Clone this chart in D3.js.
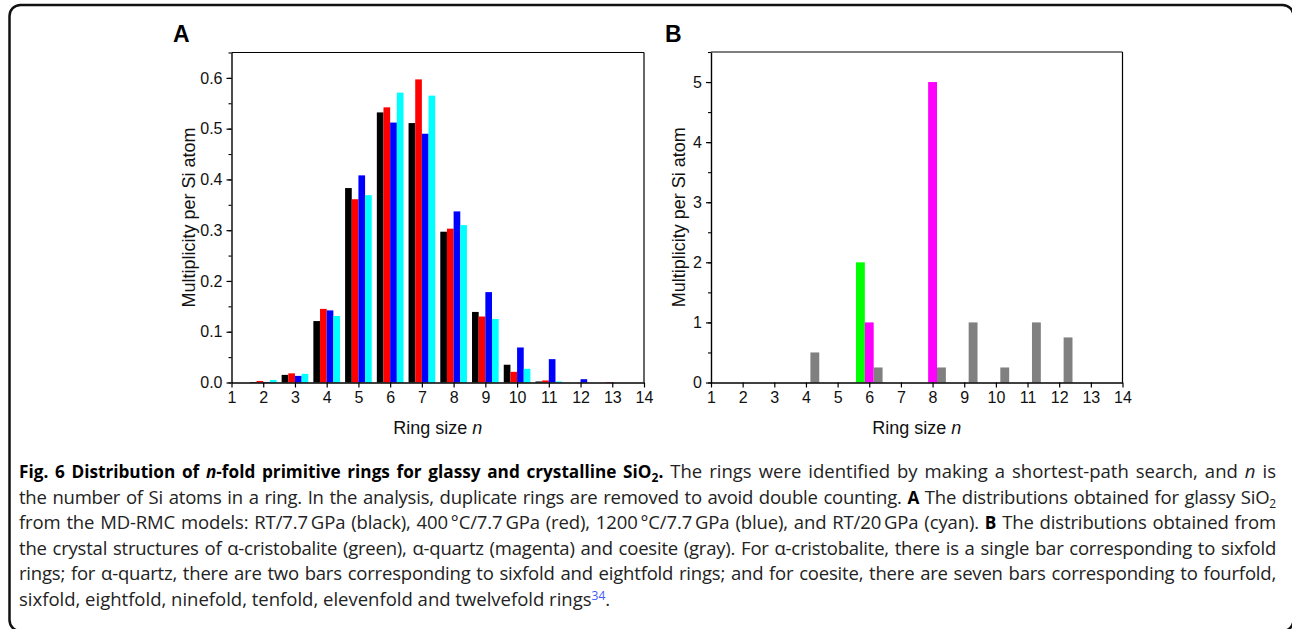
<!DOCTYPE html>
<html>
<head>
<meta charset="utf-8">
<script src="https://cdn.jsdelivr.net/npm/d3@7"></script>
<style>
  html, body { margin: 0; padding: 0; background: #fff; }
  svg { display: block; }
</style>
</head>
<body>
<svg id="chart" width="1292" height="629"></svg>
<script>
// ---------------- DATA ----------------
const ringSizes = [2, 3, 4, 5, 6, 7, 8, 9, 10, 11, 12, 13];
const rt77 = [0.001, 0.015, 0.121, 0.383, 0.532, 0.511, 0.297, 0.139, 0.035, 0.002, 0, 0];       // black
const c400 = [0.003, 0.018, 0.145, 0.361, 0.542, 0.597, 0.303, 0.130, 0.021, 0.004, 0, 0.001];   // red
const c1200 = [0.001, 0.013, 0.142, 0.408, 0.512, 0.490, 0.337, 0.178, 0.069, 0.046, 0.0065, 0]; // blue
const rt20 = [0.005, 0.017, 0.131, 0.369, 0.571, 0.565, 0.310, 0.125, 0.027, 0.002, 0, 0];       // cyan

const cristobaliteN = [6];
const cristobaliteVals = [2];
const quartzN = [6, 8];
const quartzVals = [1, 5];
const coesiteN = [4, 6, 8, 9, 10, 11, 12];
const coesiteVals = [0.5, 0.25, 0.25, 1, 0.25, 1, 0.75];

const xTickValues = [1, 2, 3, 4, 5, 6, 7, 8, 9, 10, 11, 12, 13, 14];
const yTicksA = [0, 0.1, 0.2, 0.3, 0.4, 0.5, 0.6];
const yTicksB = [0, 1, 2, 3, 4, 5];

const xLabel = "Ring size ";
const yLabel = "Multiplicity per Si atom";

// caption lines: segments
const captionLines = [
  [{t:"Fig. 6 Distribution of ", b:1}, {t:"n", b:1, i:1}, {t:"-fold primitive rings for glassy and crystalline SiO", b:1}, {t:"2", b:1, sub:1}, {t:".", b:1},
   {t:" The rings were identified by making a shortest-path search, and "}, {t:"n", i:1}, {t:" is"}],
  [{t:"the number of Si atoms in a ring. In the analysis, duplicate rings are removed to avoid double counting. "}, {t:"A", b:1}, {t:" The distributions obtained for glassy SiO"}, {t:"2", sub:1}],
  [{t:"from the MD-RMC models: RT/7.7\u2009GPa (black), 400\u2009°C/7.7\u2009GPa (red), 1200\u2009°C/7.7\u2009GPa (blue), and RT/20\u2009GPa (cyan). "}, {t:"B", b:1}, {t:" The distributions obtained from"}],
  [{t:"the crystal structures of α-cristobalite (green), α-quartz (magenta) and coesite (gray). For α-cristobalite, there is a single bar corresponding to sixfold"}],
  [{t:"rings; for α-quartz, there are two bars corresponding to sixfold and eightfold rings; and for coesite, there are seven bars corresponding to fourfold,"}],
  [{t:"sixfold, eightfold, ninefold, tenfold, elevenfold and twelvefold rings"}, {t:"34", sup:1, c:"#3d5afe"}, {t:"."}]
];

// ---------------- DRAW ----------------
const svg = d3.select("#chart");
const axisFont = "'Liberation Sans', Arial, sans-serif";

svg.append("rect")
  .attr("x", 9.5).attr("y", 5).attr("width", 1284).attr("height", 626)
  .attr("rx", 11).attr("ry", 11)
  .attr("fill", "none").attr("stroke", "#111").attr("stroke-width", 2.5);

function panel(opts) {
  const { left, right, top, bottom, yMax, yTicks, minorStep, fmt, letter, letterX } = opts;
  const g = svg.append("g");
  const x = d3.scaleLinear().domain([1, 14]).range([left, right]);
  const y = d3.scaleLinear().domain([0, yMax]).range([bottom, top]);

  opts.drawBars(g, x, y);

  g.append("line").attr("x1", left).attr("x2", right).attr("y1", top).attr("y2", top)
    .attr("stroke", "#000").attr("stroke-width", 1.2);
  g.append("line").attr("x1", right).attr("x2", right).attr("y1", top).attr("y2", bottom)
    .attr("stroke", "#000").attr("stroke-width", 1.2);

  const xAxis = d3.axisBottom(x).tickValues(xTickValues).tickFormat(d3.format("d"))
    .tickSizeInner(5).tickSizeOuter(0).tickPadding(4);
  const gx = g.append("g").attr("transform", `translate(0,${bottom})`).call(xAxis);
  gx.select(".domain").attr("stroke-width", 1.4);
  gx.selectAll(".tick line").attr("stroke-width", 1.2);
  gx.selectAll("text").attr("font-family", axisFont).attr("font-size", 16).attr("fill", "#111");

  const minor = d3.range(0, yMax + 1e-9, minorStep);
  const yMinor = d3.axisLeft(y).tickValues(minor).tickSize(3).tickFormat("");
  const gym = g.append("g").attr("transform", `translate(${left},0)`).call(yMinor);
  gym.select(".domain").remove();
  gym.selectAll(".tick line").attr("stroke-width", 1.1);

  const yAxis = d3.axisLeft(y).tickValues(yTicks).tickFormat(fmt)
    .tickSizeInner(5).tickSizeOuter(0).tickPadding(4);
  const gy = g.append("g").attr("transform", `translate(${left},0)`).call(yAxis);
  gy.select(".domain").attr("stroke-width", 1.4);
  gy.selectAll(".tick line").attr("stroke-width", 1.2);
  gy.selectAll("text").attr("font-family", axisFont).attr("font-size", 16).attr("fill", "#111");

  const xl = g.append("text")
    .attr("x", (left + right) / 2).attr("y", bottom + 51)
    .attr("text-anchor", "middle")
    .attr("font-family", axisFont).attr("font-size", 18).attr("fill", "#111");
  xl.append("tspan").text(xLabel);
  xl.append("tspan").attr("font-style", "italic").text("n");

  g.append("text")
    .attr("transform", `translate(${opts.yLabelX},${(top + bottom) / 2}) rotate(-90)`)
    .attr("text-anchor", "middle")
    .attr("font-family", axisFont).attr("font-size", 18).attr("fill", "#111")
    .text(yLabel);

  g.append("text")
    .attr("x", letterX).attr("y", 41.5)
    .attr("font-family", axisFont).attr("font-size", 23).attr("font-weight", "bold").attr("fill", "#000")
    .text(letter);
}

const seriesA = [
  { vals: rt77, color: "#000000" },
  { vals: c400, color: "#ff0000" },
  { vals: c1200, color: "#0000ff" },
  { vals: rt20, color: "#00ffff" }
];
panel({
  left: 231.5, right: 644, top: 52.5, bottom: 382.5,
  yMax: 0.65, yTicks: yTicksA, minorStep: 0.05, fmt: d3.format(".1f"),
  letter: "A", letterX: 173, yLabelX: 195,
  drawBars: (g, x, y) => {
    const bw = 0.21;
    seriesA.forEach((s, si) => {
      g.append("g").selectAll("rect").data(ringSizes.map((n, i) => ({ n, v: s.vals[i] })))
        .join("rect")
        .attr("x", d => x(d.n - 0.42 + si * bw))
        .attr("width", d => x(d.n - 0.42 + (si + 1) * bw) - x(d.n - 0.42 + si * bw))
        .attr("y", d => y(d.v))
        .attr("height", d => y(0) - y(d.v))
        .attr("fill", s.color);
    });
  }
});

const seriesB = [
  { ns: cristobaliteN, vals: cristobaliteVals, color: "#00ff00", slot: 0 },
  { ns: quartzN, vals: quartzVals, color: "#ff00ff", slot: 1 },
  { ns: coesiteN, vals: coesiteVals, color: "#808080", slot: 2 }
];
panel({
  left: 711, right: 1122.5, top: 52, bottom: 382.5,
  yMax: 5.5, yTicks: yTicksB, minorStep: 0.5, fmt: d3.format("d"),
  letter: "B", letterX: 665, yLabelX: 685,
  drawBars: (g, x, y) => {
    const bw = 0.28;
    seriesB.forEach(s => {
      g.append("g").selectAll("rect").data(s.ns.map((n, i) => ({ n, v: s.vals[i] })))
        .join("rect")
        .attr("x", d => x(d.n - 0.42 + s.slot * bw))
        .attr("width", d => x(d.n - 0.42 + (s.slot + 1) * bw) - x(d.n - 0.42 + s.slot * bw))
        .attr("y", d => y(d.v))
        .attr("height", d => y(0) - y(d.v))
        .attr("fill", s.color);
    });
  }
});

// Caption
const capFont = "'Open Sans', 'Noto Sans', sans-serif";
const capLeft = 19, capRight = 1276, capTop = 478, capStep = 25.5;
captionLines.forEach((line, li) => {
  const t = svg.append("text")
    .attr("x", capLeft).attr("y", capTop + li * capStep)
    .attr("font-family", capFont).attr("font-size", 18.5).attr("fill", "#222");
  let shifted = 0;
  line.forEach(seg => {
    const ts = t.append("tspan").text(seg.t);
    if (seg.b) ts.attr("font-weight", "bold").attr("fill", "#000").attr("font-size", 17.2);
    if (seg.i) ts.attr("font-style", "italic");
    if (seg.c) ts.attr("fill", seg.c);
    let target = seg.sub ? 4 : seg.sup ? -6 : 0;
    if (target !== shifted) { ts.attr("dy", target - shifted); shifted = target; }
    if (seg.sub || seg.sup) ts.attr("font-size", 12);
  });
  if (shifted !== 0) t.append("tspan").attr("dy", -shifted).text("");
  if (li < captionLines.length - 1) {
    const target = capRight - capLeft;
    let natural = t.node().getComputedTextLength();
    const str = line.map(s => s.t).join("");
    const spaces = (str.match(/ /g) || []).length;
    const minGap = 1.2 * spaces;
    if (natural + minGap > target) {
      const ls = (target - minGap - natural) / str.length;
      t.attr("letter-spacing", ls);
      natural = t.node().getComputedTextLength();
    }
    const extra = (target - natural) / spaces;
    t.attr("word-spacing", extra);
  }
});
</script>
</body>
</html>
